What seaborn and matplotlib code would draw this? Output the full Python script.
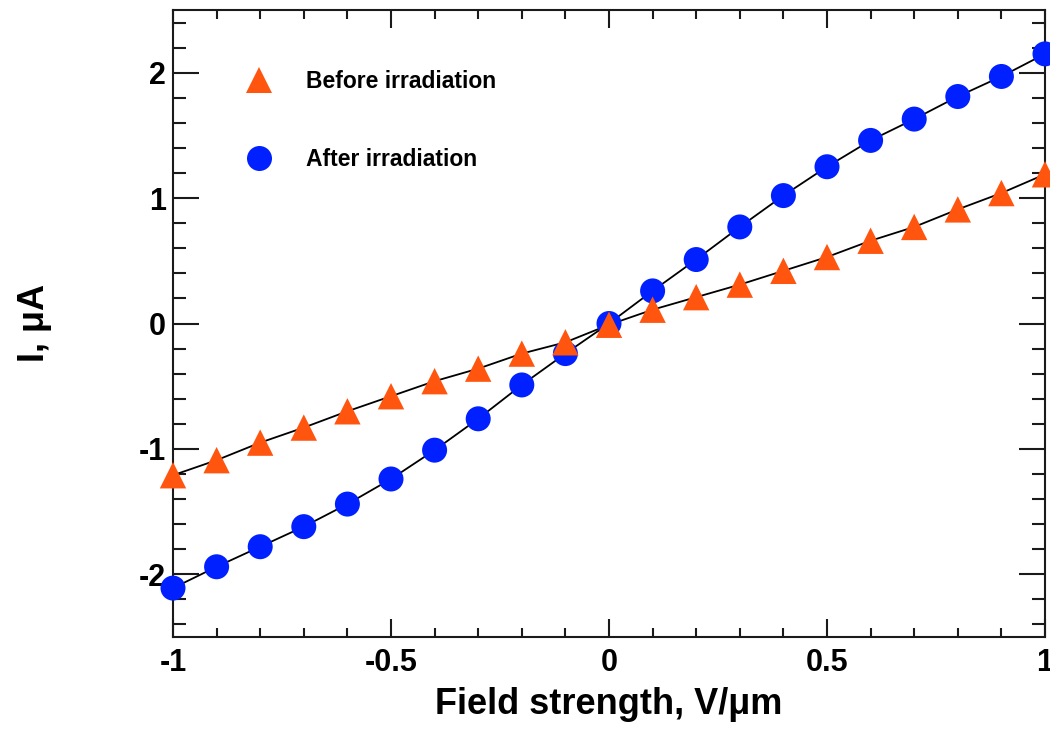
import numpy as np
import pandas as pd
import matplotlib
matplotlib.use("Agg")
import matplotlib.pyplot as plt
import seaborn as sns
from matplotlib.ticker import MultipleLocator, FixedLocator, FixedFormatter
from matplotlib.lines import Line2D

field = [-1.0, -0.9, -0.8, -0.7, -0.6, -0.5, -0.4, -0.3, -0.2, -0.1, 0.0,
         0.1, 0.2, 0.3, 0.4, 0.5, 0.6, 0.7, 0.8, 0.9, 1.0]
before = [-1.21, -1.09, -0.95, -0.83, -0.70, -0.58, -0.46, -0.36, -0.24, -0.15, -0.01,
          0.11, 0.21, 0.31, 0.42, 0.53, 0.66, 0.77, 0.91, 1.04, 1.19]
after = [-2.11, -1.94, -1.78, -1.62, -1.44, -1.24, -1.01, -0.76, -0.49, -0.24, 0.0,
         0.26, 0.51, 0.77, 1.02, 1.25, 1.46, 1.63, 1.81, 1.97, 2.15]
labels = ["Before irradiation", "After irradiation"]
x_ticks = [-1, -0.5, 0, 0.5, 1]
x_ticklabels = ["-1", "-0.5", "0", "0.5", "1"]
y_ticks = [-2, -1, 0, 1, 2]
y_ticklabels = ["-2", "-1", "0", "1", "2"]

ORANGE = "#ff550f"
BLUE = "#0020ff"

sns.set_theme(style="ticks")
plt.rcParams["font.family"] = ["Liberation Sans", "DejaVu Sans"]
plt.rcParams["font.weight"] = "bold"
plt.rcParams["axes.unicode_minus"] = False
plt.rcParams["text.color"] = "black"
plt.rcParams["axes.labelcolor"] = "black"
plt.rcParams["xtick.color"] = "black"
plt.rcParams["ytick.color"] = "black"
plt.rcParams["xtick.labelcolor"] = "black"
plt.rcParams["ytick.labelcolor"] = "black"

fig = plt.figure(figsize=(10.5, 7.44), dpi=100)
ax = fig.add_axes([173/1050, 1 - 637/744, (1045-173)/1050, (637-10)/744])

df_b = pd.DataFrame({"x": field, "y": before})
df_a = pd.DataFrame({"x": field, "y": after})

sns.lineplot(data=df_a, x="x", y="y", ax=ax, color="black", lw=1.3, zorder=2)
sns.lineplot(data=df_b, x="x", y="y", ax=ax, color="black", lw=1.3, zorder=2)
sns.scatterplot(data=df_a, x="x", y="y", ax=ax, marker="o", s=18**2, color=BLUE,
                edgecolor="none", linewidth=0, zorder=3, clip_on=False)
sns.scatterplot(data=df_b, x="x", y="y", ax=ax, marker="^", s=19**2, color=ORANGE,
                edgecolor="none", linewidth=0, zorder=4, clip_on=False)

ax.set_xlim(-1, 1)
ax.set_ylim(-2.5, 2.5)
ax.xaxis.set_major_locator(FixedLocator(x_ticks))
ax.xaxis.set_major_formatter(FixedFormatter(x_ticklabels))
ax.yaxis.set_major_locator(FixedLocator(y_ticks))
ax.yaxis.set_major_formatter(FixedFormatter(y_ticklabels))
ax.xaxis.set_minor_locator(MultipleLocator(0.1))
ax.yaxis.set_minor_locator(MultipleLocator(0.2))

for s in ax.spines.values():
    s.set_linewidth(1.5)
    s.set_color("#1a1a1a")
    s.set_visible(True)

ax.tick_params(axis="both", which="both", direction="in", top=True, right=True,
               color="#1a1a1a", width=1.5)
ax.tick_params(axis="x", which="major", length=13, pad=8, labelsize=22)
ax.tick_params(axis="x", which="minor", length=6.5)
ax.tick_params(axis="y", which="major", length=19, pad=5, labelsize=22)
ax.tick_params(axis="y", which="minor", length=9.5)
for t in ax.get_xticklabels() + ax.get_yticklabels():
    t.set_fontweight("bold")
    t.set_color("black")

ax.set_xlabel("Field strength, V/\u03bcm", fontsize=26, fontweight="bold", color="black")
ax.set_ylabel("I, \u03bcA", fontsize=26, fontweight="bold", color="black")
ax.xaxis.set_label_coords(0.5, -(705-637)/627)
ax.xaxis.label.set_va("center")
ax.yaxis.set_label_coords((35-173)/872, (637-323)/627)
ax.yaxis.label.set_va("center")

handles = [
    Line2D([], [], marker="^", color=ORANGE, markersize=19, linestyle="none", markeredgewidth=0),
    Line2D([], [], marker="o", color=BLUE, markersize=18, linestyle="none", markeredgewidth=0),
]
leg = ax.legend(handles, labels, loc="upper left", bbox_to_anchor=((236-173)/872, (637-70)/627),
                frameon=False, borderpad=0, borderaxespad=0, handlelength=2.0,
                handletextpad=1.05, labelspacing=2.41, prop={"size": 16.5, "weight": "bold"})
for t in leg.get_texts():
    t.set_color("black")

fig.savefig("out.png", dpi=100, facecolor="white")
